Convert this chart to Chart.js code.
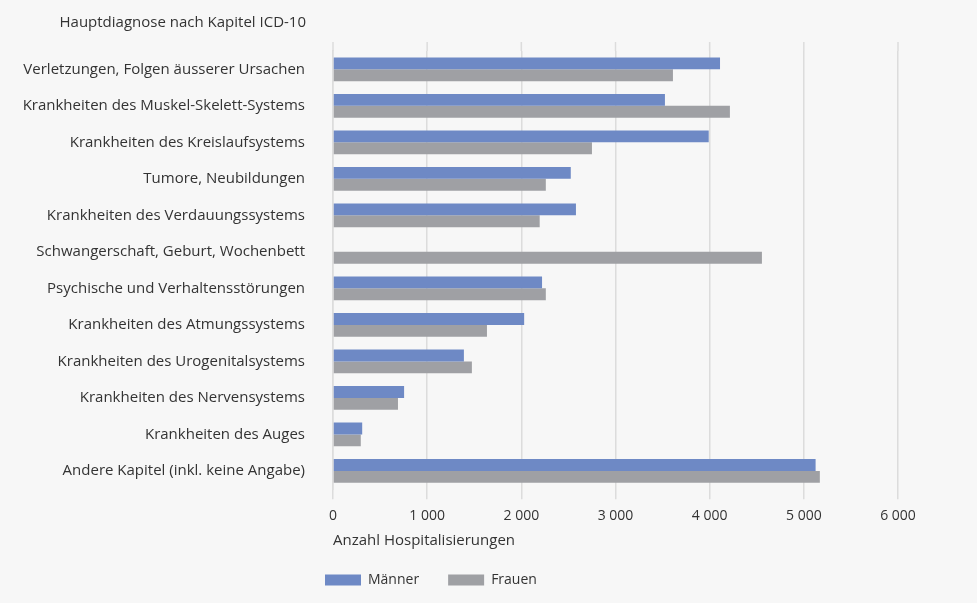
<!DOCTYPE html>
<html lang="de">
<head>
  <meta charset="UTF-8">
  <title>Hospitalisierungen nach Hauptdiagnose</title>
  <script src="https://cdn.jsdelivr.net/npm/chart.js"></script>
  <style>
    html, body { margin: 0; padding: 0; background: #f7f7f7; }
    .wrap { width: 977px; height: 603px; }
  </style>
</head>
<body>
<div class="wrap"><canvas id="chart" width="977" height="603"></canvas></div>
<script>
const categories = [
  "Verletzungen, Folgen äusserer Ursachen",
  "Krankheiten des Muskel-Skelett-Systems",
  "Krankheiten des Kreislaufsystems",
  "Tumore, Neubildungen",
  "Krankheiten des Verdauungssystems",
  "Schwangerschaft, Geburt, Wochenbett",
  "Psychische und Verhaltensstörungen",
  "Krankheiten des Atmungssystems",
  "Krankheiten des Urogenitalsystems",
  "Krankheiten des Nervensystems",
  "Krankheiten des Auges",
  "Andere Kapitel (inkl. keine Angabe)"
];
const maenner = [4110, 3525, 3990, 2525, 2580, 0, 2220, 2030, 1390, 755, 310, 5125];
const frauen  = [3610, 4215, 2750, 2260, 2195, 4555, 2260, 1635, 1475, 690, 295, 5170];
const xTicks = [0, 1000, 2000, 3000, 4000, 5000, 6000];

const FONT = "'Open Sans', sans-serif";
const TEXT = "#333333";
const GRID = "#dcdcdc";

// Titel über den Kategorien, Gitterlinien etwas über die Fläche hinaus
const extras = {
  id: "extras",
  beforeDraw(chart) {
    // Legende links an der Achse ausrichten und etwas höher setzen
    const lg = chart.legend;
    if (lg) {
      const w = lg.right - lg.left, h = lg.bottom - lg.top;
      lg.left = chart.chartArea.left - 8 - 29;
      lg.right = lg.left + w;
      lg.top = chart.height - 59;
      lg.bottom = lg.top + h;
    }
  },
  beforeDatasetsDraw(chart) {
    const ctx = chart.ctx;
    const x = chart.scales.x;
    const top = chart.chartArea.top;
    ctx.save();
    ctx.strokeStyle = GRID;
    ctx.lineWidth = 1.5;
    xTicks.forEach(v => {
      const px = x.getPixelForValue(v);
      ctx.beginPath();
      ctx.moveTo(px, top - 9);
      ctx.lineTo(px, top);
      ctx.stroke();
    });
    ctx.restore();
  },
  afterDraw(chart) {
    const ctx = chart.ctx;
    const y = chart.scales.y;
    ctx.save();
    ctx.font = "15px " + FONT;
    ctx.fillStyle = TEXT;
    ctx.textAlign = "right";
    ctx.textBaseline = "middle";
    ctx.fillText("Hauptdiagnose nach Kapitel ICD-10", y.right - 27, 23);
    ctx.restore();
  }
};

new Chart(document.getElementById("chart"), {
  type: "bar",
  data: {
    labels: categories,
    datasets: [
      { label: "Männer", data: maenner, backgroundColor: "#6e89c5" },
      { label: "Frauen", data: frauen, backgroundColor: "#9fa0a4" }
    ]
  },
  options: {
    indexAxis: "y",
    responsive: false,
    animation: false,
    categoryPercentage: 0.65,
    barPercentage: 1.0,
    layout: { padding: { top: 51, right: 79, left: 0, bottom: 0 } },
    plugins: {
      legend: {
        position: "bottom",
        align: "start",
        fullSize: false,
        maxHeight: 50,
        labels: {
          boxWidth: 36,
          boxHeight: 11,
          color: TEXT,
          font: { family: FONT, size: 14 },
          padding: 29
        }
      },
      tooltip: { enabled: false }
    },
    scales: {
      x: {
        min: 0,
        max: 6000,
        afterBuildTicks(scale) { scale.ticks = xTicks.map(v => ({ value: v })); },
        grid: { color: GRID, lineWidth: 1.5, tickLength: 10, drawTicks: true },
        border: { display: false },
        ticks: {
          color: TEXT,
          font: { family: FONT, size: 14 },
          padding: 8,
          callback: v => String(v).replace(/\B(?=(\d{3})+(?!\d))/g, " ")
        },
        title: {
          display: true,
          align: "start",
          text: "Anzahl Hospitalisierungen",
          color: TEXT,
          font: { family: FONT, size: 15 },
          padding: { top: 0, bottom: 3 }
        }
      },
      y: {
        afterFit(scale) { scale.width = 333; },
        grid: { display: false },
        border: { display: true, color: GRID, width: 1.5 },
        ticks: {
          color: TEXT,
          font: { family: FONT, size: 15 },
          padding: 20
        }
      }
    }
  },
  plugins: [extras]
});
</script>
</body>
</html>
